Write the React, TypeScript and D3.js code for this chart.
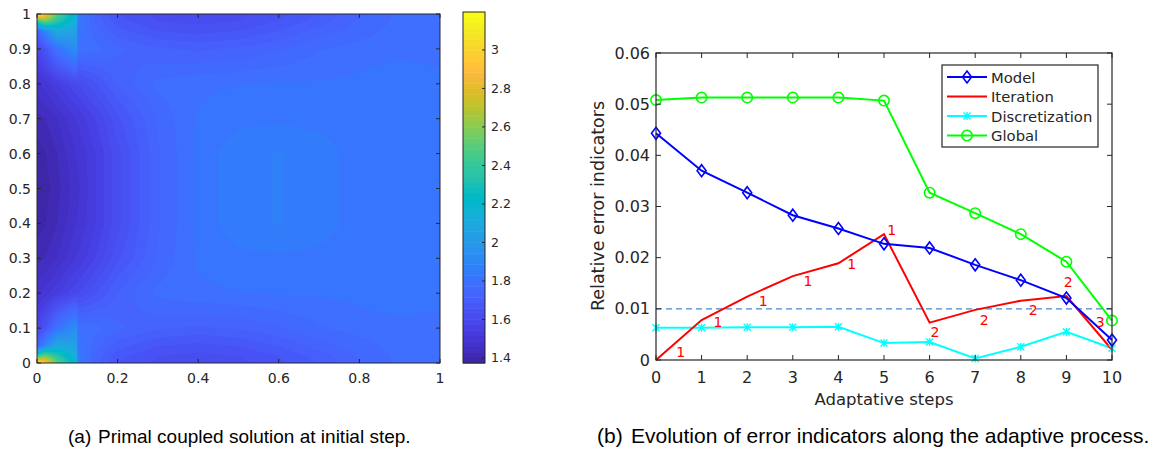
import React, { useMemo } from "react";
import * as d3 from "d3";

// ---------- Right chart data ----------
const steps = [0, 1, 2, 3, 4, 5, 6, 7, 8, 9, 10];
const modelVals = [0.0443, 0.037, 0.0327, 0.0283, 0.0257, 0.0227, 0.0219, 0.0186, 0.0156, 0.0121, 0.0039];
const iterVals = [0, 0.0078, 0.0124, 0.0164, 0.0189, 0.0246, 0.0073, 0.0098, 0.0116, 0.0125, 0.002];
const discVals = [0.0063, 0.0063, 0.0064, 0.0064, 0.0065, 0.0033, 0.0035, 0.0003, 0.0026, 0.0055, 0.0023];
const globalVals = [0.0508, 0.0513, 0.0513, 0.0513, 0.0513, 0.0507, 0.0327, 0.0287, 0.0246, 0.0192, 0.0077];
const thresholdVal = 0.01;
const iterLabelText = ["1", "1", "1", "1", "1", "1", "2", "2", "2", "2", "3"];
const iterLabelX = [0.54, 1.36, 2.35, 3.33, 4.29, 5.17, 6.12, 7.2, 8.27, 9.04, 9.74];
const iterLabelY = [0.0016, 0.0075, 0.0116, 0.0155, 0.0188, 0.0254, 0.0055, 0.0078, 0.0098, 0.0153, 0.0075];
const yTicksR = [0, 0.01, 0.02, 0.03, 0.04, 0.05, 0.06];
const xTicksR = steps;

// ---------- Left chart data (solution field sampled on a grid) ----------
const gridX = [0, 0.02, 0.05, 0.099, 0.101, 0.15, 0.2, 0.3, 0.4, 0.5, 0.6, 0.7, 0.8, 0.9, 1];
const gridY = [0, 0.02, 0.05, 0.1, 0.2, 0.3, 0.4, 0.5, 0.6, 0.7, 0.8, 0.9, 0.95, 0.98, 1];
const fieldRows = [
  [3.2, 2.95, 2.5, 2.15, 1.85, 1.72, 1.66, 1.62, 1.61, 1.62, 1.65, 1.69, 1.74, 1.78, 1.79],
  [2.4, 2.55, 2.35, 2.1, 1.84, 1.73, 1.67, 1.63, 1.62, 1.63, 1.66, 1.7, 1.75, 1.78, 1.79],
  [1.7, 1.9, 2.1, 2.05, 1.82, 1.75, 1.7, 1.66, 1.65, 1.66, 1.69, 1.73, 1.76, 1.785, 1.79],
  [1.58, 1.65, 1.8, 1.95, 1.8, 1.78, 1.75, 1.72, 1.71, 1.72, 1.74, 1.77, 1.785, 1.79, 1.79],
  [1.48, 1.5, 1.54, 1.6, 1.6, 1.66, 1.72, 1.78, 1.795, 1.8, 1.805, 1.805, 1.81, 1.825, 1.81],
  [1.42, 1.43, 1.46, 1.52, 1.52, 1.58, 1.65, 1.75, 1.805, 1.82, 1.825, 1.82, 1.815, 1.815, 1.815],
  [1.39, 1.4, 1.43, 1.49, 1.49, 1.55, 1.62, 1.74, 1.81, 1.85, 1.86, 1.845, 1.815, 1.815, 1.815],
  [1.38, 1.39, 1.42, 1.48, 1.48, 1.55, 1.62, 1.74, 1.81, 1.85, 1.86, 1.845, 1.815, 1.815, 1.815],
  [1.39, 1.4, 1.43, 1.49, 1.49, 1.55, 1.62, 1.74, 1.81, 1.85, 1.86, 1.845, 1.815, 1.815, 1.815],
  [1.42, 1.43, 1.46, 1.52, 1.52, 1.58, 1.65, 1.75, 1.805, 1.82, 1.825, 1.82, 1.815, 1.815, 1.815],
  [1.48, 1.5, 1.54, 1.6, 1.6, 1.66, 1.72, 1.78, 1.795, 1.8, 1.805, 1.805, 1.81, 1.825, 1.81],
  [1.58, 1.65, 1.8, 1.95, 1.8, 1.78, 1.75, 1.72, 1.71, 1.72, 1.74, 1.77, 1.785, 1.79, 1.79],
  [1.7, 1.9, 2.1, 2.05, 1.82, 1.75, 1.7, 1.66, 1.65, 1.66, 1.69, 1.73, 1.76, 1.785, 1.79],
  [2.4, 2.55, 2.35, 2.1, 1.84, 1.73, 1.67, 1.63, 1.62, 1.63, 1.66, 1.7, 1.75, 1.78, 1.79],
  [3.2, 2.95, 2.5, 2.15, 1.85, 1.72, 1.66, 1.62, 1.61, 1.62, 1.65, 1.69, 1.74, 1.78, 1.79],
];
const colorDomain = [1.374, 3.197];
const cbTicks = [1.4, 1.6, 1.8, 2, 2.2, 2.4, 2.6, 2.8, 3];
const xTicksL = [0, 0.2, 0.4, 0.6, 0.8, 1];
const yTicksL = [0, 0.1, 0.2, 0.3, 0.4, 0.5, 0.6, 0.7, 0.8, 0.9, 1];

// MATLAB parula(64)
const parula = [
  [0.2422, 0.1504, 0.6603], [0.2504, 0.165, 0.7076], [0.2578, 0.1818, 0.7511], [0.2647, 0.1978, 0.7952],
  [0.2706, 0.2147, 0.8364], [0.2751, 0.2342, 0.871], [0.2783, 0.2559, 0.8991], [0.2803, 0.2782, 0.9221],
  [0.2813, 0.3006, 0.9414], [0.281, 0.3228, 0.9579], [0.2795, 0.3447, 0.9717], [0.276, 0.3667, 0.9829],
  [0.2699, 0.3892, 0.9906], [0.2602, 0.4123, 0.9952], [0.244, 0.4358, 0.9988], [0.2206, 0.4603, 0.9973],
  [0.1963, 0.4847, 0.9892], [0.1834, 0.5074, 0.9798], [0.1786, 0.5289, 0.9682], [0.1764, 0.5499, 0.952],
  [0.1687, 0.5703, 0.9359], [0.154, 0.5902, 0.9218], [0.146, 0.6091, 0.9079], [0.138, 0.6276, 0.8973],
  [0.1248, 0.6459, 0.8883], [0.1113, 0.6635, 0.8763], [0.0952, 0.6798, 0.8598], [0.0689, 0.6948, 0.8394],
  [0.0297, 0.7082, 0.8163], [0.0036, 0.7203, 0.7917], [0.0067, 0.7312, 0.766], [0.0433, 0.7411, 0.7394],
  [0.0964, 0.75, 0.712], [0.1408, 0.7584, 0.6842], [0.1717, 0.767, 0.6554], [0.1938, 0.7758, 0.6251],
  [0.2161, 0.7843, 0.5923], [0.247, 0.7918, 0.5567], [0.2906, 0.7973, 0.5188], [0.3406, 0.8008, 0.4789],
  [0.3909, 0.8029, 0.4354], [0.4456, 0.8024, 0.3909], [0.5044, 0.7993, 0.348], [0.5616, 0.7942, 0.3045],
  [0.6174, 0.7876, 0.2612], [0.672, 0.7793, 0.2227], [0.7242, 0.7698, 0.191], [0.7738, 0.7598, 0.1646],
  [0.8203, 0.7498, 0.1535], [0.8634, 0.7406, 0.1596], [0.9035, 0.733, 0.1774], [0.9393, 0.7288, 0.21],
  [0.9728, 0.7298, 0.2394], [0.9956, 0.7434, 0.2371], [0.997, 0.7659, 0.2199], [0.9952, 0.7893, 0.2028],
  [0.9892, 0.8136, 0.1885], [0.9786, 0.8386, 0.1766], [0.9676, 0.8639, 0.1643], [0.961, 0.889, 0.1537],
  [0.9597, 0.9135, 0.1423], [0.9628, 0.9373, 0.1265], [0.9691, 0.9606, 0.1064], [0.9769, 0.9839, 0.0805],
];

const AX = "#262626";
const FONT = "DejaVu Sans, sans-serif";
const CAPFONT = "Liberation Sans, Arial, sans-serif";

function parulaIndex(v: number) {
  const t = (v - colorDomain[0]) / (colorDomain[1] - colorDomain[0]);
  return Math.max(0, Math.min(63, Math.floor(t * 64)));
}
function rgbStr(c: number[]) {
  return `rgb(${Math.round(c[0] * 255)},${Math.round(c[1] * 255)},${Math.round(c[2] * 255)})`;
}

function sampleField(x: number, y: number) {
  let i = d3.bisectRight(gridX, x) - 1;
  i = Math.max(0, Math.min(gridX.length - 2, i));
  let j = d3.bisectRight(gridY, y) - 1;
  j = Math.max(0, Math.min(gridY.length - 2, j));
  const tx = (x - gridX[i]) / (gridX[i + 1] - gridX[i]);
  const ty = (y - gridY[j]) / (gridY[j + 1] - gridY[j]);
  const a = fieldRows[j][i], b = fieldRows[j][i + 1];
  const c = fieldRows[j + 1][i], d = fieldRows[j + 1][i + 1];
  return a * (1 - tx) * (1 - ty) + b * tx * (1 - ty) + c * (1 - tx) * ty + d * tx * ty;
}

export default function App() {
  const xL = d3.scaleLinear().domain([0, 1]).range([37, 440]);
  const yL = d3.scaleLinear().domain([0, 1]).range([363, 14]);
  const cbY = d3.scaleLinear().domain(colorDomain).range([363, 12]);
  const cbX0 = 463, cbX1 = 485;

  const xR = d3.scaleLinear().domain([0, 10]).range([656, 1112]);
  const yR = d3.scaleLinear().domain([0, 0.06]).range([360, 53]);

  const imgHref = useMemo(() => {
    const W = Math.round(xL(1) - xL(0));
    const H = Math.round(yL(0) - yL(1));
    const canvas = document.createElement("canvas");
    canvas.width = W;
    canvas.height = H;
    const ctx = canvas.getContext("2d");
    if (!ctx) return "";
    const img = ctx.createImageData(W, H);
    for (let py = 0; py < H; py++) {
      const yv = yL.invert(yL(1) + py + 0.5);
      for (let px = 0; px < W; px++) {
        const xv = xL.invert(xL(0) + px + 0.5);
        const v = sampleField(xv, yv);
        const c = parula[parulaIndex(v)];
        const k = (py * W + px) * 4;
        img.data[k] = Math.round(c[0] * 255);
        img.data[k + 1] = Math.round(c[1] * 255);
        img.data[k + 2] = Math.round(c[2] * 255);
        img.data[k + 3] = 255;
      }
    }
    ctx.putImageData(img, 0, 0);
    return canvas.toDataURL();
  }, []);

  const line = d3
    .line<number>()
    .x((_, i) => xR(steps[i]))
    .y((d) => yR(d));

  const tickLen = 5;
  const cbStep = (colorDomain[1] - colorDomain[0]) / 64;

  const diamond = (cx: number, cy: number, key: string, color: string) => (
    <path
      key={key}
      d={`M${cx},${cy - 6}L${cx + 4.5},${cy}L${cx},${cy + 6}L${cx - 4.5},${cy}Z`}
      fill="none"
      stroke={color}
      strokeWidth={1.6}
    />
  );
  const circle = (cx: number, cy: number, key: string, color: string) => (
    <circle key={key} cx={cx} cy={cy} r={5.2} fill="none" stroke={color} strokeWidth={1.6} />
  );
  const star = (cx: number, cy: number, key: string, color: string) => (
    <path
      key={key}
      d={`M${cx - 3.5},${cy - 3.5}L${cx + 3.5},${cy + 3.5}M${cx - 3.5},${cy + 3.5}L${cx + 3.5},${cy - 3.5}M${cx},${cy - 4}L${cx},${cy + 4}`}
      stroke={color}
      strokeWidth={1.4}
    />
  );

  const legendItems = [
    { name: "Model", color: "#0000ff", marker: diamond },
    { name: "Iteration", color: "#ff0000", marker: null },
    { name: "Discretization", color: "#00ffff", marker: star },
    { name: "Global", color: "#00ff00", marker: circle },
  ];
  const legendY = [77, 96.5, 116, 135.5];

  return (
    <svg width={1156} height={450} style={{ display: "block", position: "absolute", left: 0, top: 0, background: "#fff" }}>
      <rect x={0} y={0} width={1156} height={450} fill="#fff" />
      {/* ---------- Left heatmap ---------- */}
      <image href={imgHref} x={xL(0)} y={yL(1)} width={xL(1) - xL(0)} height={yL(0) - yL(1)} preserveAspectRatio="none" />
      <rect x={xL(0)} y={yL(1)} width={xL(1) - xL(0)} height={yL(0) - yL(1)} fill="none" stroke={AX} strokeWidth={1} />
      {xTicksL.map((t) => (
        <g key={"xl" + t}>
          <line x1={xL(t)} x2={xL(t)} y1={yL(0)} y2={yL(0) - 4} stroke={AX} />
          <line x1={xL(t)} x2={xL(t)} y1={yL(1)} y2={yL(1) + 4} stroke={AX} />
          <text x={xL(t)} y={378} textAnchor="middle" dominantBaseline="central" fontFamily={FONT} fontSize={14} fill={AX}>
            {String(t)}
          </text>
        </g>
      ))}
      {yTicksL.map((t) => (
        <g key={"yl" + t}>
          <line x1={xL(0)} x2={xL(0) + 4} y1={yL(t)} y2={yL(t)} stroke={AX} />
          <line x1={xL(1)} x2={xL(1) - 4} y1={yL(t)} y2={yL(t)} stroke={AX} />
          <text x={31} y={yL(t)} textAnchor="end" dominantBaseline="central" fontFamily={FONT} fontSize={14} fill={AX}>
            {String(t)}
          </text>
        </g>
      ))}
      {/* colorbar */}
      {parula.map((c, i) => {
        const v0 = colorDomain[0] + i * cbStep;
        const v1 = v0 + cbStep;
        return (
          <rect key={"cb" + i} x={cbX0} y={cbY(v1)} width={cbX1 - cbX0} height={cbY(v0) - cbY(v1) + 0.5} fill={rgbStr(c)} />
        );
      })}
      <rect x={cbX0} y={cbY(colorDomain[1])} width={cbX1 - cbX0} height={cbY(colorDomain[0]) - cbY(colorDomain[1])} fill="none" stroke={AX} strokeWidth={1} />
      {cbTicks.map((t) => (
        <g key={"cbt" + t}>
          <line x1={cbX1} x2={cbX1 - 3} y1={cbY(t)} y2={cbY(t)} stroke={AX} />
          <text x={491} y={cbY(t)} dominantBaseline="central" fontFamily={FONT} fontSize={12.5} fill={AX}>
            {String(t)}
          </text>
        </g>
      ))}

      {/* ---------- Right line chart ---------- */}
      <line
        x1={xR(0)}
        x2={xR(10)}
        y1={yR(thresholdVal)}
        y2={yR(thresholdVal)}
        stroke="#4a86d0"
        strokeWidth={1.1}
        strokeDasharray="6,4"
      />
      <path d={line(discVals) || ""} fill="none" stroke="#00ffff" strokeWidth={2} />
      <path d={line(iterVals) || ""} fill="none" stroke="#ff0000" strokeWidth={2} />
      <path d={line(modelVals) || ""} fill="none" stroke="#0000ff" strokeWidth={2} />
      <path d={line(globalVals) || ""} fill="none" stroke="#00ff00" strokeWidth={2} />
      {discVals.map((v, i) => star(xR(steps[i]), yR(v), "ds" + i, "#00ffff"))}
      {modelVals.map((v, i) => diamond(xR(steps[i]), yR(v), "md" + i, "#0000ff"))}
      {globalVals.map((v, i) => circle(xR(steps[i]), yR(v), "gc" + i, "#00ff00"))}
      {iterLabelText.map((t, i) => (
        <text
          key={"il" + i}
          x={xR(iterLabelX[i])}
          y={yR(iterLabelY[i])}
          textAnchor="middle"
          dominantBaseline="central"
          fontFamily={FONT}
          fontSize={14}
          fill="#ff0000"
        >
          {t}
        </text>
      ))}
      <rect x={xR(0)} y={yR(0.06)} width={xR(10) - xR(0)} height={yR(0) - yR(0.06)} fill="none" stroke={AX} strokeWidth={1.2} />
      {xTicksR.map((t) => (
        <g key={"xr" + t}>
          <line x1={xR(t)} x2={xR(t)} y1={yR(0)} y2={yR(0) - tickLen} stroke={AX} />
          <line x1={xR(t)} x2={xR(t)} y1={yR(0.06)} y2={yR(0.06) + tickLen} stroke={AX} />
          <text x={xR(t)} y={377} textAnchor="middle" dominantBaseline="central" fontFamily={FONT} fontSize={16} fill={AX}>
            {String(t)}
          </text>
        </g>
      ))}
      {yTicksR.map((t) => (
        <g key={"yr" + t}>
          <line x1={xR(0)} x2={xR(0) + tickLen} y1={yR(t)} y2={yR(t)} stroke={AX} />
          <line x1={xR(10)} x2={xR(10) - tickLen} y1={yR(t)} y2={yR(t)} stroke={AX} />
          <text x={650} y={yR(t)} textAnchor="end" dominantBaseline="central" fontFamily={FONT} fontSize={16} fill={AX}>
            {t === 0 ? "0" : t.toFixed(2)}
          </text>
        </g>
      ))}
      <text x={884} y={399} textAnchor="middle" dominantBaseline="central" fontFamily={FONT} fontSize={16.5} fill={AX}>
        Adaptative steps
      </text>
      <text
        transform={`translate(598,206) rotate(-90)`}
        textAnchor="middle"
        dominantBaseline="central"
        fontFamily={FONT}
        fontSize={17.5}
        fill={AX}
      >
        Relative error indicators
      </text>
      {/* legend */}
      <rect x={942} y={65} width={156} height={82} fill="#fff" stroke={AX} strokeWidth={1.2} />
      {legendItems.map((it, i) => (
        <g key={"lg" + i}>
          <line x1={947} x2={987} y1={legendY[i]} y2={legendY[i]} stroke={it.color} strokeWidth={2} />
          {it.marker ? it.marker(967, legendY[i], "lm" + i, it.color) : null}
          <text x={991} y={legendY[i]} dominantBaseline="central" fontFamily={FONT} fontSize={14.8} fill={AX}>
            {it.name}
          </text>
        </g>
      ))}

      {/* captions */}
      <text x={68} y={443} fontFamily={CAPFONT} fontSize={19} fill="#000">
        (a)
      </text>
      <text x={98} y={443} fontFamily={CAPFONT} fontSize={19} fill="#000">
        Primal coupled solution at initial step.
      </text>
      <text x={597} y={443} fontFamily={CAPFONT} fontSize={21} fill="#000">
        (b)
      </text>
      <text x={631} y={443} fontFamily={CAPFONT} fontSize={21} fill="#000">
        Evolution of error indicators along the adaptive process.
      </text>
    </svg>
  );
}
